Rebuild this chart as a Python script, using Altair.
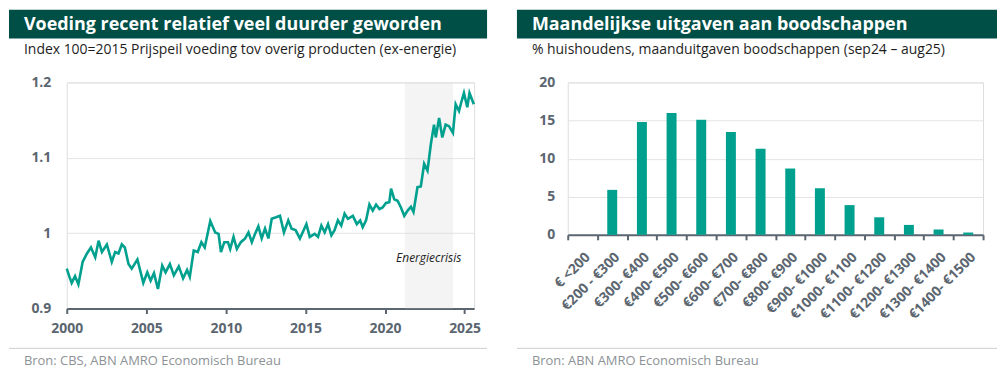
import altair as alt
import pandas as pd

# ---------------- data ----------------
years = [2000.00, 2000.17, 2000.31, 2000.52, 2000.73, 2001.00, 2001.27, 2001.52, 2001.79, 2002.00,
         2002.21, 2002.52, 2002.83, 2003.04, 2003.25, 2003.46, 2003.65, 2003.88, 2004.08, 2004.44,
         2004.81, 2005.06, 2005.27, 2005.48, 2005.73, 2006.00, 2006.21, 2006.48, 2006.73, 2007.04,
         2007.31, 2007.56, 2007.73, 2007.98, 2008.23, 2008.46, 2008.67, 2009.02, 2009.33, 2009.54,
         2009.69, 2009.90, 2010.13, 2010.27, 2010.48, 2010.69, 2010.94, 2011.21, 2011.42, 2011.63,
         2011.83, 2012.04, 2012.25, 2012.46, 2012.67, 2012.88, 2013.15, 2013.40, 2013.65, 2013.92,
         2014.13, 2014.38, 2014.65, 2015.06, 2015.27, 2015.58, 2015.79, 2016.00, 2016.21, 2016.42,
         2016.63, 2016.83, 2017.04, 2017.25, 2017.46, 2017.67, 2017.98, 2018.23, 2018.44, 2018.60,
         2018.81, 2019.02, 2019.23, 2019.44, 2019.65, 2019.85, 2020.06, 2020.27, 2020.38, 2020.58,
         2020.79, 2021.00, 2021.21, 2021.42, 2021.63, 2021.79, 2022.04, 2022.25, 2022.46, 2022.67,
         2022.88, 2023.08, 2023.19, 2023.40, 2023.60, 2023.81, 2024.02, 2024.27, 2024.44, 2024.65,
         2024.81, 2024.96, 2025.17, 2025.31, 2025.58]
index_vals = [0.953, 0.942, 0.934, 0.943, 0.932, 0.962, 0.973, 0.981, 0.968, 0.990,
              0.975, 0.985, 0.962, 0.975, 0.973, 0.985, 0.981, 0.959, 0.953, 0.965,
              0.934, 0.948, 0.937, 0.947, 0.926, 0.957, 0.948, 0.959, 0.944, 0.956,
              0.940, 0.951, 0.942, 0.977, 0.975, 0.988, 0.981, 1.016, 1.001, 0.999,
              0.975, 0.988, 0.988, 0.979, 0.995, 0.979, 0.988, 0.993, 1.001, 0.988,
              0.999, 1.009, 0.993, 1.006, 0.993, 1.019, 1.021, 1.023, 1.001, 1.017,
              1.006, 1.004, 0.993, 1.012, 0.995, 0.999, 0.995, 1.010, 1.001, 1.012,
              0.997, 1.004, 1.017, 1.010, 1.026, 1.019, 1.023, 1.012, 1.017, 1.008,
              1.017, 1.038, 1.030, 1.038, 1.032, 1.034, 1.040, 1.041, 1.059, 1.045,
              1.043, 1.034, 1.023, 1.030, 1.035, 1.028, 1.061, 1.062, 1.092, 1.083,
              1.118, 1.144, 1.127, 1.153, 1.127, 1.144, 1.142, 1.133, 1.171, 1.162,
              1.175, 1.186, 1.167, 1.186, 1.171]
crisis_period = [2021.25, 2024.27]
crisis_label = ["Energiecrisis"]
crisis_label_pos = [2022.75, 0.967]
x_ticks_left = [2000, 2005, 2010, 2015, 2020, 2025]
y_ticks_left = [0.9, 1.0, 1.1, 1.2]

categories = ["€ <200", "€200 - €300", "€300- €400", "€400- €500", "€500- €600",
              "€600- €700", "€700- €800", "€800- €900", "€900- €1000", "€1000- €1100",
              "€1100- €1200", "€1200- €1300", "€1300- €1400", "€1400- €1500"]
shares = [0, 5.9, 14.8, 16.0, 15.1, 13.5, 11.3, 8.7, 6.1, 3.9, 2.3, 1.3, 0.7, 0.3]
y_ticks_right = [0, 5, 10, 15, 20]

title_left = "Voeding recent relatief veel duurder geworden"
subtitle_left = "Index 100=2015 Prijspeil voeding tov overig producten (ex-energie)"
source_left = "Bron: CBS, ABN AMRO Economisch Bureau"
title_right = "Maandelijkse uitgaven aan boodschappen"
subtitle_right = "% huishoudens, maanduitgaven boodschappen (sep24 \u2013 aug25)"
source_right = "Bron: ABN AMRO Economisch Bureau"

# ---------------- style ----------------
FONT = "Open Sans"
TEAL = "#00a08f"
DARK = "#004f47"
AX = "#5b6670"
GRID = "#e4e4e4"


def decor(left, width, title, subtitle, source):
    one = alt.Data(values=[{"k": 1}])
    bar = alt.Chart(one).mark_rect(color=DARK).encode(
        x=alt.value(left), x2=alt.value(left + width),
        y=alt.value(-73), y2=alt.value(-44))
    ttl = alt.Chart(one).mark_text(
        align="left", baseline="middle", font=FONT, fontSize=18,
        fontWeight="bold", color="white").encode(
        x=alt.value(left + 15), y=alt.value(-58), text=alt.value(title))
    sub = alt.Chart(one).mark_text(
        align="left", baseline="middle", font=FONT, fontSize=14,
        color="#1e1e1e").encode(
        x=alt.value(left + 15), y=alt.value(-33), text=alt.value(subtitle))
    rule = alt.Chart(one).mark_rule(color="#cfcfcf", strokeWidth=1).encode(
        x=alt.value(left), x2=alt.value(left + width), y=alt.value(267))
    src = alt.Chart(one).mark_text(
        align="left", baseline="middle", font=FONT, fontSize=13,
        color="#8d9296").encode(
        x=alt.value(left + 15), y=alt.value(280), text=alt.value(source))
    return [bar, ttl, sub, rule, src]


# ---------------- left chart ----------------
W1, H1 = 409, 227
line_df = pd.DataFrame({"year": years, "value": index_vals})
shade_df = pd.DataFrame({"start": [crisis_period[0]], "end": [crisis_period[1]]})
lab_df = pd.DataFrame({"x": [crisis_label_pos[0]], "y": [crisis_label_pos[1]], "t": crisis_label})

xs = alt.Scale(domain=[2000, 2025.6], nice=False, zero=False)
ys = alt.Scale(domain=[0.9, 1.2], nice=False, zero=False)

shade = alt.Chart(shade_df).mark_rect(color="#d9d9d9", opacity=0.3).encode(
    x=alt.X("start:Q", scale=xs), x2="end:Q",
    y=alt.value(0), y2=alt.value(H1))

line = alt.Chart(line_df).mark_line(color=TEAL, strokeWidth=2.6).encode(
    x=alt.X("year:Q", scale=xs,
            axis=alt.Axis(values=x_ticks_left, format="d", title=None, grid=False,
                          labelFlush=False, domainColor=AX, domainWidth=2, tickColor=AX,
                          tickWidth=2, tickSize=5, labelPadding=8, labelFont=FONT,
                          labelFontSize=14, labelFontWeight="bold", labelColor=AX)),
    y=alt.Y("value:Q", scale=ys,
            axis=alt.Axis(values=y_ticks_left, format=".1~f", title=None, domain=False,
                          ticks=False, labelPadding=16, gridColor=GRID, labelFont=FONT,
                          labelFontSize=14, labelFontWeight="bold", labelColor=AX)))

lab = alt.Chart(lab_df).mark_text(font=FONT, fontSize=12, fontStyle="italic",
                                  color="#1e1e1e").encode(
    x=alt.X("x:Q", scale=xs), y=alt.Y("y:Q", scale=ys), text="t:N")

left = alt.layer(shade, line, lab, *decor(-58, 480, title_left, subtitle_left, source_left)).properties(
    width=W1, height=H1)

# ---------------- right chart ----------------
W2, H2 = 417, 153
bar_df = pd.DataFrame({"cat": categories, "share": shares})

bars = alt.Chart(bar_df).mark_bar(color=TEAL, size=10).encode(
    x=alt.X("cat:N", sort=categories, scale=alt.Scale(paddingInner=0, paddingOuter=0),
            axis=alt.Axis(title=None, labelAngle=-45, tickBand="extent", domainColor=AX,
                          domainWidth=2, tickColor=AX, tickWidth=2, tickSize=5,
                          labelPadding=10, labelFont=FONT, labelFontSize=14,
                          labelFontWeight="bold", labelColor=AX, grid=False)),
    y=alt.Y("share:Q", scale=alt.Scale(domain=[0, 20], nice=False),
            axis=alt.Axis(values=y_ticks_right, title=None, domain=False, ticks=False,
                          labelPadding=13, gridColor=GRID, labelFont=FONT,
                          labelFontSize=14, labelFontWeight="bold", labelColor=AX)))

right = alt.layer(bars, *decor(-51, 482, title_right, subtitle_right, source_right)).properties(
    width=W2, height=H2)

chart = alt.hconcat(left, right, spacing=28).properties(padding=0).configure_view(
    stroke=None).configure(font=FONT)

chart.save("out.html", embed_options={"renderer": "svg", "actions": False})
